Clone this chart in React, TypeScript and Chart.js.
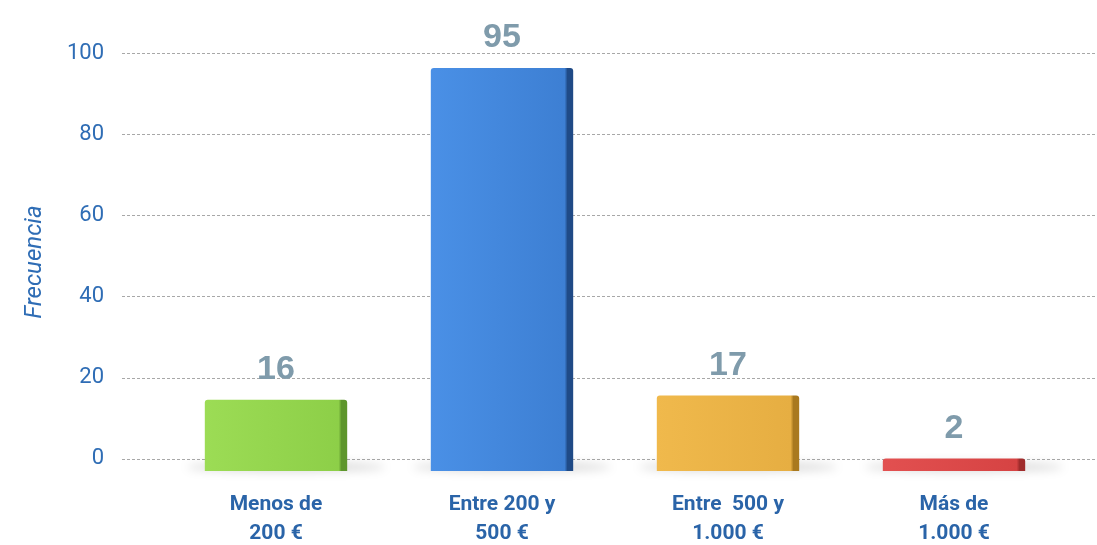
import React, { useEffect, useRef } from 'react';
import { Chart, registerables } from 'chart.js';

Chart.register(...registerables);

const categories: string[][] = [
  ['Menos de', '200 €'],
  ['Entre 200 y', '500 €'],
  ['Entre  500 y', '1.000 €'],
  ['Más de', '1.000 €'],
];
const values: number[] = [16, 95, 17, 2];
const yTicks: number[] = [0, 20, 40, 60, 80, 100];
const barColors: string[] = ['#8dcf48', '#3d7fd3', '#e6ae42', '#d64343'];
const barLight: string[] = ['#9cdc55', '#4a90e6', '#f0b94c', '#e25050'];
const barDark: string[] = ['#5e962c', '#1f4a86', '#a9791f', '#a02c2c'];

const extGridPlugin = {
  id: 'extGrid',
  beforeDatasetsDraw(chart: any) {
    const { ctx, chartArea } = chart;
    const y = chart.scales.y;
    ctx.save();
    ctx.strokeStyle = '#a8a8a8';
    ctx.lineWidth = 1;
    ctx.setLineDash([3, 2]);
    yTicks.forEach((v) => {
      const py = Math.round(y.getPixelForValue(v)) + 0.5;
      ctx.beginPath();
      ctx.moveTo(chartArea.left - 41, py);
      ctx.lineTo(chartArea.right + 29, py);
      ctx.stroke();
    });
    ctx.setLineDash([]);
    const meta = chart.getDatasetMeta(0);
    meta.data.forEach((el: any) => {
      const b = el.base;
      ctx.save();
      ctx.filter = 'blur(5px)';
      ctx.fillStyle = 'rgba(0,0,0,0.14)';
      ctx.beginPath();
      ctx.ellipse(el.x + 10, b - 4, el.width / 2 + 28, 5, 0, 0, Math.PI * 2);
      ctx.fill();
      ctx.restore();
    });
    ctx.restore();
  },
};

const valueLabelPlugin = {
  id: 'valueLabels',
  afterDatasetsDraw(chart: any) {
    const { ctx } = chart;
    const meta = chart.getDatasetMeta(0);
    ctx.save();
    ctx.fillStyle = '#7f9bab';
    ctx.font = 'bold 34px "Liberation Sans", Arial, sans-serif';
    ctx.textAlign = 'center';
    ctx.textBaseline = 'alphabetic';
    meta.data.forEach((el: any, i: number) => {
      ctx.fillText(String(values[i]), el.x, el.y - 21);
    });
    ctx.restore();
  },
};

export default function App() {
  const canvasRef = useRef<HTMLCanvasElement | null>(null);

  useEffect(() => {
    if (!canvasRef.current) return;
    const chart = new Chart(canvasRef.current, {
      type: 'bar',
      data: {
        labels: categories as any,
        datasets: [
          {
            data: values,
            yAxisID: 'yb',
            base: -0.95,
            borderRadius: 3,
            borderSkipped: 'bottom',
            categoryPercentage: 1,
            barPercentage: 0.63,
            backgroundColor: (c: any) => {
              const i = c.dataIndex;
              const el = c.chart.getDatasetMeta(0).data[i];
              if (!el || el.x == null || isNaN(el.width) || !el.width) return barColors[i];
              const x0 = el.x - el.width / 2;
              const x1 = el.x + el.width / 2;
              const g = c.chart.ctx.createLinearGradient(x0, 0, x1, 0);
              g.addColorStop(0, barLight[i]);
              g.addColorStop(0.94, barColors[i]);
              g.addColorStop(0.96, barDark[i]);
              g.addColorStop(1, barDark[i]);
              return g;
            },
          } as any,
        ],
      },
      options: {
        animation: false,
        responsive: true,
        maintainAspectRatio: false,
        layout: { padding: { top: 53, right: 30, left: 0, bottom: 0 } },
        plugins: { legend: { display: false }, tooltip: { enabled: false } },
        scales: {
          x: {
            grid: { display: false, drawTicks: false },
            border: { display: false },
            ticks: {
              color: '#2a64a8',
              padding: 20,
              font: { family: 'Roboto, "Open Sans", sans-serif', size: 21, weight: 'bold', lineHeight: 1.35 },
              maxRotation: 0,
            },
            afterFit: (s: any) => {
              s.height = 74;
            },
          },
          y: {
            min: -3,
            max: 100,
            grid: { display: false },
            border: { display: false },
            afterBuildTicks: (s: any) => {
              s.ticks = yTicks.map((v) => ({ value: v }));
            },
            ticks: {
              color: '#2f6db5',
              padding: 51,
              font: { family: 'Roboto, sans-serif', size: 22, weight: 400 },
            },
            title: {
              display: true,
              text: 'Frecuencia',
              color: '#2f6db5',
              padding: { top: 22, bottom: 0 },
              font: { family: 'Roboto, sans-serif', size: 24, style: 'italic', weight: 400, lineHeight: 1.1 },
            },
            afterFit: (s: any) => {
              s.width = 163;
              s.paddingTop = 12;
              s.paddingBottom = 0;
            },
          },
          yb: {
            display: false,
            min: -0.952,
            max: 98.57,
          },
        },
      } as any,
      plugins: [extGridPlugin, valueLabelPlugin],
    });
    chart.update();
    return () => chart.destroy();
  }, []);

  return (
    <div style={{ position: 'absolute', left: 0, top: 0, width: 1097, height: 545, background: '#ffffff' }}>
      <canvas ref={canvasRef} />
    </div>
  );
}
